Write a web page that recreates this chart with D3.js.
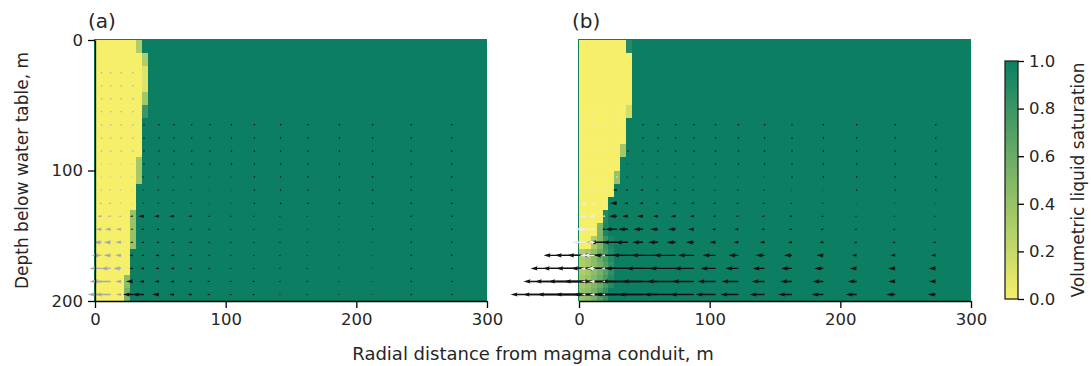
<!DOCTYPE html>
<html>
<head>
<meta charset="utf-8">
<script src="https://cdn.jsdelivr.net/npm/d3@7"></script>
<style>
body { margin: 0; background: #fff; }
text { font-family: "DejaVu Sans", sans-serif; fill: #262626; }
</style>
</head>
<body>
<svg id="chart" width="1091" height="366"></svg>
<script>
// grid of the model (m)
const depths = [5, 15, 25, 35, 45, 55, 65, 75, 85, 95, 105, 115, 125, 135, 145, 155, 165, 175, 185, 195];
const rowEdges = [0, 10, 20, 30, 40, 50, 60, 70, 80, 90, 100, 110, 120, 130, 140, 150, 160, 170, 180, 190, 200];
const heatXEdges = [0, 4.5, 9, 13.5, 18, 22.5, 27, 31.5, 36, 40.5, 45];
const arrowX = [5, 12, 20, 29, 37.5, 49, 60.5, 74, 88, 104.5, 122, 142, 163, 187, 212.5, 242, 273];

const xTicks = [0, 100, 200, 300];
const yTicks = [0, 100, 200];
const cbTicks = [0, 0.2, 0.4, 0.6, 0.8, 1.0];

// liquid saturation near the conduit (rows = rowEdges, cols = heatXEdges); beyond 45 m it is 1
const satA = [
  [0, 0, 0, 0, 0, 0, 0, 0.3, 1, 1],
  [0, 0, 0, 0, 0, 0, 0, 0, 0.3, 1],
  [0, 0, 0, 0, 0, 0, 0, 0, 0.1, 1],
  [0, 0, 0, 0, 0, 0, 0, 0, 0.1, 1],
  [0, 0, 0, 0, 0, 0, 0, 0, 0.35, 1],
  [0, 0, 0, 0, 0, 0, 0, 0, 0.8, 1],
  [0, 0, 0, 0, 0, 0, 0, 0, 1, 1],
  [0, 0, 0, 0, 0, 0, 0, 0, 1, 1],
  [0, 0, 0, 0, 0, 0, 0, 0, 1, 1],
  [0, 0, 0, 0, 0, 0, 0, 0.35, 1, 1],
  [0, 0, 0, 0, 0, 0, 0, 0.35, 1, 1],
  [0, 0, 0, 0, 0, 0, 0, 1, 1, 1],
  [0, 0, 0, 0, 0, 0, 0, 1, 1, 1],
  [0, 0, 0, 0, 0, 0, 0.4, 1, 1, 1],
  [0, 0, 0, 0, 0, 0, 0.4, 1, 1, 1],
  [0, 0, 0, 0, 0, 0, 0.4, 1, 1, 1],
  [0, 0, 0, 0, 0, 0, 1, 1, 1, 1],
  [0, 0, 0, 0, 0, 0, 1, 1, 1, 1],
  [0, 0, 0, 0, 0, 0.45, 1, 1, 1, 1],
  [0, 0, 0, 0, 0, 0.55, 1, 1, 1, 1]
];
const satB = [
  [0, 0, 0, 0, 0, 0, 0, 0, 0.9, 1],
  [0, 0, 0, 0, 0, 0, 0, 0, 0, 1],
  [0, 0, 0, 0, 0, 0, 0, 0, 0, 1],
  [0, 0, 0, 0, 0, 0, 0, 0, 0, 1],
  [0, 0, 0, 0, 0, 0, 0, 0, 0, 1],
  [0, 0, 0, 0, 0, 0, 0, 0, 0.15, 1],
  [0, 0, 0, 0, 0, 0, 0, 0, 1, 1],
  [0, 0, 0, 0, 0, 0, 0, 0, 1, 1],
  [0, 0, 0, 0, 0, 0, 0, 0.35, 1, 1],
  [0, 0, 0, 0, 0, 0, 0, 1, 1, 1],
  [0, 0, 0, 0, 0, 0, 0.4, 1, 1, 1],
  [0, 0, 0, 0, 0, 0, 1, 1, 1, 1],
  [0, 0, 0, 0, 0, 1, 1, 1, 1, 1],
  [0, 0, 0, 0, 0.9, 1, 1, 1, 1, 1],
  [0, 0, 0, 0.5, 0.95, 1, 1, 1, 1, 1],
  [0, 0, 0.3, 0.5, 0.8, 0.95, 1, 1, 1, 1],
  [0.3, 0.35, 0.45, 0.6, 0.75, 0.9, 1, 1, 1, 1],
  [0.3, 0.35, 0.45, 0.55, 0.7, 0.85, 1, 1, 1, 1],
  [0.35, 0.4, 0.5, 0.6, 0.75, 0.9, 1, 1, 1, 1],
  [0.4, 0.45, 0.55, 0.7, 0.85, 1, 1, 1, 1, 1]
];

// liquid flux (black arrows), leftward, rows = depths, cols = arrowX
const liqA = [
  [0, 0, 0, 0, 0, 0, 0, 0, 0, 0, 0, 0, 0, 0, 0, 0, 0],
  [0, 0, 0, 0, 0, 0, 0, 0, 0, 0, 0, 0, 0, 0, 0, 0, 0],
  [0, 0, 0, 0, 0, 0, 0, 0, 0, 0, 0, 0, 0, 0, 0, 0, 0],
  [0, 0, 0, 0, 0, 0, 0, 0, 0, 0, 0, 0, 0, 0, 0, 0, 0],
  [0, 0, 0, 0, 0, 0, 0, 0, 0, 0, 0, 0, 0, 0, 0, 0, 0],
  [0, 0, 0, 0, 0, 0, 0, 0, 0, 0, 0, 0, 0, 0, 0, 0, 0],
  [0, 0, 0, 0, 0.8, 0.8, 0.8, 0.8, 0.8, 0.8, 0.8, 0.8, 0.8, 0.8, 0.8, 0.8, 0.8],
  [0, 0, 0, 0, 0.8, 0.8, 0.8, 0.8, 0.8, 0.8, 0.8, 0.8, 0.8, 0.8, 0.8, 0.8, 0.8],
  [0, 0, 0, 0, 1, 1, 1, 1, 1, 1, 1, 1, 1, 1, 1, 1, 1],
  [0, 0, 0, 0, 1, 1, 1, 1, 1, 1, 1, 1, 1, 1, 1, 1, 1],
  [0, 0, 0, 0, 2.5, 2, 2, 1.8, 1.5, 1.5, 1.2, 1.2, 1, 1, 1, 1, 1],
  [0, 0, 0, 0, 2, 2, 2, 1.8, 1.5, 1.5, 1.2, 1.2, 1, 1, 1, 1, 1],
  [0, 0, 0, 0, 2, 2, 2, 1.8, 1.5, 1.5, 1.2, 1.2, 1.2, 1, 1, 1, 1],
  [0, 0, 0, 3, 6, 5, 5, 3.5, 2.5, 2.3, 2, 2, 1.8, 1.5, 1.5, 1.2, 1.2],
  [0, 0, 0, 2.5, 3, 3, 3, 2.5, 2.2, 2, 2, 1.8, 1.5, 1.5, 1.2, 1.2, 1.2],
  [0, 0, 0, 3, 3, 3, 3, 3, 2.5, 2.2, 2, 2, 1.8, 1.5, 1.5, 1.2, 1.2],
  [0, 0, 0, 3.5, 3, 4, 3.5, 3, 2.5, 2.2, 2, 2, 1.8, 1.5, 1.5, 1.2, 1.2],
  [0, 0, 0, 3.5, 3.5, 4, 3.5, 3, 2.5, 2.2, 2, 2, 1.8, 1.5, 1.5, 1.2, 1.2],
  [0, 0, 0, 7, 5, 4.5, 4, 3.5, 3, 2.5, 2.5, 2, 2, 1.5, 1.5, 1.2, 1.2],
  [0, 0, 0, 10, 12, 7, 5, 4, 3, 2.5, 2.5, 2, 2, 1.5, 1.5, 1.2, 1.2]
];
const liqB = [
  [0, 0, 0, 0, 0, 0, 0, 0, 0, 0, 0, 0, 0, 0, 0, 0, 0],
  [0, 0, 0, 0, 0, 0, 0, 0, 0, 0, 0, 0, 0, 0, 0, 0, 0],
  [0, 0, 0, 0, 0, 0, 0, 0, 0, 0, 0, 0, 0, 0, 0, 0, 0],
  [0, 0, 0, 0, 0, 0, 0, 0, 0, 0, 0, 0, 0, 0, 0, 0, 0],
  [0, 0, 0, 0, 0, 0, 0, 0, 0, 0, 0, 0, 0, 0, 0, 0, 0],
  [0, 0, 0, 0, 0, 0, 0, 0, 0, 0, 0, 0, 0, 0, 0, 0, 0],
  [0, 0, 0, 0, 0, 0.8, 0.8, 0.8, 0.8, 0.8, 0.8, 0.8, 0.8, 0.8, 0.8, 0.8, 0.8],
  [0, 0, 0, 0, 0, 1, 1, 1, 1, 1, 1, 1, 1, 1, 1, 1, 1],
  [0, 0, 0, 0, 1.2, 1.2, 1.2, 1.2, 1.2, 1, 1, 1, 1, 1, 1, 1, 1],
  [0, 0, 0, 0, 1.5, 1.5, 1.5, 1.5, 1.5, 1.2, 1.2, 1.2, 1, 1, 1, 1, 1],
  [0, 0, 0, 0, 2, 2, 2, 2, 2, 1.5, 1.5, 1.5, 1.2, 1.2, 1, 1, 1],
  [0, 0, 0, 4, 3, 3, 2.5, 2.5, 2.5, 2, 2, 2, 1.5, 1.5, 1.2, 1.2, 1],
  [0, 0, 0, 7, 4, 4, 3, 3, 3, 2.5, 2.5, 2.5, 2, 2, 1.5, 1.5, 1.5],
  [0, 0, 0, 8, 6, 6, 5, 5, 4, 3, 3, 3, 3, 2.5, 2, 2, 2],
  [0, 0, 3, 12, 10, 10, 8, 8, 6, 4, 4, 3.5, 3.5, 3, 2.5, 2.5, 2],
  [0, 8, 16, 15, 13, 11, 10, 9, 8, 6, 5, 5, 4, 4, 3, 3, 3],
  [42, 40, 38, 36, 34, 31, 27, 22, 16, 13, 10, 9, 8, 7, 5, 5, 5],
  [55, 52, 49, 46, 43, 38, 32, 26, 20, 15, 13, 12, 11, 9, 7, 7, 7],
  [62, 60, 57, 53, 48, 42, 36, 29, 22, 18, 17, 13, 12, 11, 9, 7, 7],
  [75, 72, 68, 62, 55, 48, 40, 32, 24, 20, 18, 15, 14, 12, 11, 9, 8]
];

// vapour flux (light arrows) in the first six columns of arrowX
const vapA = [
  [0, 0, 0, 0, 0, 0],
  [0, 0, 0, 0, 0, 0],
  [0.6, 0.6, 0.6, 0.6, 0, 0],
  [0.6, 0.6, 0.6, 0.6, 0, 0],
  [0.6, 0.6, 0.6, 0.6, 0, 0],
  [1, 1, 1, 1, 0, 0],
  [1, 1, 1, 1, 0, 0],
  [1.2, 1.2, 1.2, 1.2, 0, 0],
  [1.2, 1.2, 1.2, 1.2, 0, 0],
  [1.5, 1.5, 1.5, 1.5, 0, 0],
  [1.5, 1.5, 1.5, 1.5, 0, 0],
  [2, 2, 2, 1.5, 0, 0],
  [2.5, 2.5, 2, 1.5, 0, 0],
  [4, 3, 2.5, 0, 0, 0],
  [6, 6, 5, 0, 0, 0],
  [8, 7, 6, 0, 0, 0],
  [10, 7, 6, 0, 0, 0],
  [12, 10, 8, 0, 0, 0],
  [12, 20, 6, 0, 0, 0],
  [14, 16, 5, 0, 0, 0]
];
const vapB = [
  [0, 0, 0, 0, 0, 0],
  [0, 0, 0, 0, 0, 0],
  [0, 0, 0, 0, 0, 0],
  [0, 0, 0, 0, 0, 0],
  [0, 0, 0, 0, 0, 0],
  [1, 1, 1, 1, 0, 0],
  [1, 1, 1, 1, 0, 0],
  [1, 1, 1, 1, 0, 0],
  [1.2, 1.2, 1.2, 1.2, 0, 0],
  [1.5, 1.5, 1.5, 1.5, 0, 0],
  [2, 2, 2, 1, 0, 0],
  [3, 3, 2, 0, 0, 0],
  [5, 4, 3, 0, 0, 0],
  [6, 6, 3, 0, 0, 0],
  [10, 17, 0, 0, 0, 0],
  [14, 8, 0, 0, 0, 0],
  [6, 12, 4, 0, 0, 0],
  [5, 8, 4, 0, 0, 0],
  [4, 6, 3, 0, 0, 0],
  [4, 5, 3, 0, 0, 0]
];

const svg = d3.select('#chart');
const color = d3.scaleLinear().domain([0, 1]).range(['#f5ef6a', '#0c7f63']).interpolate(d3.interpolateRgb);
const y = d3.scaleLinear().domain([0, 200]).range([40, 301]);
const qLen = d3.scaleLinear().domain([0, 10]).range([0, 10]);

// matplotlib-like quiver arrow polygon, pointing to -x, tail at origin
const arrowPoints = (L, w) => {
  const hl = 5 * w, hal = 4.5 * w, hw = 1.5 * w;
  let s = 1, Ld = L;
  if (L < hl) { s = L / hl; Ld = hl; }
  const pts = [[0, -w / 2], [Ld - hal, -w / 2], [Ld - hl, -hw], [Ld, 0], [Ld - hl, hw], [Ld - hal, w / 2], [0, w / 2]];
  return pts.map(p => [-p[0] * s, p[1] * s]);
};

const drawQuiver = (g, x, values, fill) => {
  const w = 1.4;
  values.forEach((row, i) => {
    row.forEach((v, j) => {
      if (!v) return;
      const L = qLen(v);
      const tx = x(arrowX[j]), ty = y(depths[i]);
      if (L < w) {
        g.append('circle').attr('cx', tx).attr('cy', ty).attr('r', 0.75).attr('fill', fill);
        return;
      }
      g.append('path')
        .attr('d', d3.line()(arrowPoints(L, w).map(p => [tx + p[0], ty + p[1]])) + 'Z')
        .attr('fill', fill);
    });
  });
};

const drawPanel = (x0, sat, liq, vap, vapColor, label, withY) => {
  const x = d3.scaleLinear().domain([0, 300]).range([x0, x0 + 392]);
  const g = svg.append('g');

  g.append('rect')
    .attr('x', x(0) - 0.5).attr('y', y(0) - 0.5)
    .attr('width', x(300) - x(0)).attr('height', y(200) - y(0))
    .attr('fill', color(1)).attr('stroke', color(1)).attr('stroke-width', 1);

  const cells = g.append('g').attr('shape-rendering', 'crispEdges');
  sat.forEach((row, i) => {
    row.forEach((v, j) => {
      cells.append('rect')
        .attr('x', x(heatXEdges[j]))
        .attr('y', y(rowEdges[i]))
        .attr('width', x(heatXEdges[j + 1]) - x(heatXEdges[j]) + 0.5)
        .attr('height', y(rowEdges[i + 1]) - y(rowEdges[i]) + 0.5)
        .attr('fill', color(v));
    });
  });

  drawQuiver(g.append('g'), x, liq, '#111');
  drawQuiver(g.append('g'), x, vap, vapColor);

  const xAxis = g.append('g')
    .attr('transform', `translate(0,${y(200)})`)
    .call(d3.axisBottom(x).tickValues(xTicks).tickFormat(d3.format('d')).tickSize(7).tickSizeOuter(0).tickPadding(5));
  xAxis.selectAll('text').attr('font-size', 16.5).attr('fill', '#262626');
  xAxis.selectAll('path,line').attr('stroke', '#000').attr('stroke-width', 1.3);

  if (withY) {
    const yAxis = g.append('g')
      .attr('transform', `translate(${x(0)},0)`)
      .call(d3.axisLeft(y).tickValues(yTicks).tickFormat(d3.format('d')).tickSize(7).tickSizeOuter(0).tickPadding(5));
    yAxis.selectAll('text').attr('font-size', 16.5).attr('fill', '#262626');
    yAxis.selectAll('path,line').attr('stroke', '#000').attr('stroke-width', 1.3);
  }

  g.append('text')
    .attr('x', x(0) - 7).attr('y', 28)
    .attr('font-size', 20)
    .text(label);
};

drawPanel(95, satA, liqA, vapA, '#a9a9a9', '(a)', true);
drawPanel(579, satB, liqB, vapB, '#ececec', '(b)', false);

// colorbar
const cb = d3.scaleLinear().domain([0, 1]).range([299, 61]);
const grad = svg.append('defs').append('linearGradient')
  .attr('id', 'cbgrad').attr('x1', 0).attr('y1', 1).attr('x2', 0).attr('y2', 0);
grad.selectAll('stop').data(d3.range(0, 1.01, 0.1)).enter().append('stop')
  .attr('offset', d => d).attr('stop-color', d => color(d));
svg.append('rect')
  .attr('x', 1005).attr('y', cb(1)).attr('width', 13).attr('height', cb(0) - cb(1))
  .attr('fill', 'url(#cbgrad)').attr('stroke', '#222').attr('stroke-width', 1.3);
const cbAxis = svg.append('g')
  .attr('transform', 'translate(1018,0)')
  .call(d3.axisRight(cb).tickValues(cbTicks).tickFormat(d3.format('.1f')).tickSize(6).tickSizeOuter(0).tickPadding(5));
cbAxis.select('.domain').remove();
cbAxis.selectAll('text').attr('font-size', 16.5).attr('fill', '#262626');
cbAxis.selectAll('line').attr('stroke', '#000').attr('stroke-width', 1.3);

// axis titles
svg.append('text')
  .attr('x', 533).attr('y', 360).attr('text-anchor', 'middle').attr('font-size', 18)
  .text('Radial distance from magma conduit, m');
svg.append('text')
  .attr('transform', `translate(28,${(y(0) + y(200)) / 2}) rotate(-90)`)
  .attr('text-anchor', 'middle').attr('font-size', 17)
  .text('Depth below water table, m');
svg.append('text')
  .attr('transform', `translate(1084,${(cb(0) + cb(1)) / 2}) rotate(-90)`)
  .attr('text-anchor', 'middle').attr('font-size', 17)
  .text('Volumetric liquid saturation');
</script>
</body>
</html>
